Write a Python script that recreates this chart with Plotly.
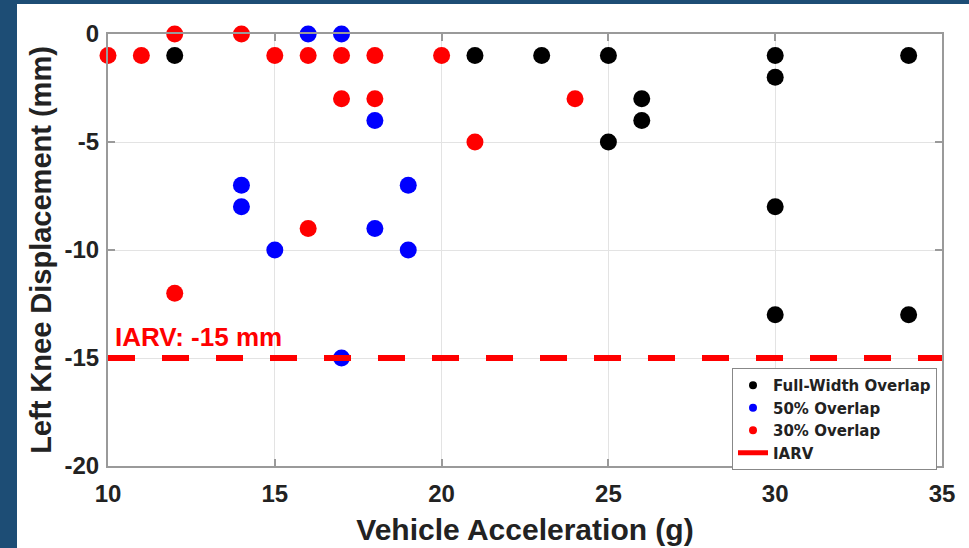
import plotly.graph_objects as go

# ---- data ----
full_x = [12, 21, 23, 25, 25, 26, 26, 30, 30, 30, 30, 34, 34]
full_y = [-1, -1, -1, -1, -5, -3, -4, -1, -2, -8, -13, -1, -13]

half_x = [16, 17, 18, 14, 14, 19, 18, 15, 19, 17]
half_y = [0, 0, -4, -7, -8, -7, -9, -10, -10, -15]

thirty_x = [10, 11, 12, 14, 15, 16, 17, 18, 20, 17, 18, 21, 16, 12, 24]
thirty_y = [-1, -1, 0, 0, -1, -1, -1, -1, -1, -3, -3, -5, -9, -12, -3]

iarv_value = -15
x_limits = [10, 35]
y_limits = [-20, 0]
x_ticks = [10, 15, 20, 25, 30, 35]
y_ticks = [-20, -15, -10, -5, 0]
y_tick_labels = ["-20", "-15", "-10", "-5", "0"]

series_names = ["Full-Width Overlap", "50% Overlap", "30% Overlap"]
series_colors = ["#000000", "#0000ff", "#ff0000"]

FONT = "Liberation Sans"
TXT = "#222222"

fig = go.Figure()

for (xs, ys), name, col in zip([(full_x, full_y), (half_x, half_y), (thirty_x, thirty_y)],
                               series_names, series_colors):
    fig.add_trace(go.Scatter(x=xs, y=ys, mode="markers", name=name, showlegend=False,
                             cliponaxis=False,
                             marker=dict(color=col, size=17, line=dict(width=0))))

# IARV threshold line (drawn on top of the markers)
fig.add_shape(type="line", xref="x", yref="y", layer="above",
              x0=x_limits[0], x1=x_limits[1], y0=iarv_value, y1=iarv_value,
              line=dict(color="#ff0000", width=6, dash="27px,27px"))

# legend-only entries
for name, col in zip(series_names, series_colors):
    fig.add_trace(go.Scatter(x=[None], y=[None], mode="markers", name=name,
                             marker=dict(color=col, size=8)))
fig.add_trace(go.Scatter(x=[None], y=[None], mode="lines", name="IARV",
                         line=dict(color="#ff0000", width=5)))

fig.add_annotation(x=x_limits[0], y=iarv_value, xref="x", yref="y",
                   text="IARV: -15 mm", showarrow=False,
                   xanchor="left", yanchor="bottom", xshift=5, yshift=4,
                   font=dict(family=FONT, size=26, color="#ff0000", weight="bold"))

axis_common = dict(
    showline=True, linecolor="#9a9a9a", linewidth=2, mirror="ticks",
    ticks="inside", ticklen=7, tickcolor="#9a9a9a", tickwidth=1.5,
    showgrid=True, gridcolor="#e3e3e3", gridwidth=1, zeroline=False,
    automargin=False,
    tickfont=dict(family=FONT, size=24, color=TXT, weight="bold"),
)

fig.update_xaxes(range=x_limits, tickvals=x_ticks, ticklabelstandoff=5, **axis_common,
                 title=dict(text="Vehicle Acceleration (g)", standoff=13,
                            font=dict(family=FONT, size=30, color=TXT, weight="bold")))
fig.update_yaxes(range=y_limits, tickvals=y_ticks, ticktext=y_tick_labels,
                 ticklabelstandoff=2, **axis_common,
                 title=dict(text="Left Knee Displacement (mm)", standoff=4,
                            font=dict(family=FONT, size=29, color=TXT, weight="bold")))

W, H = 969, 548
ml, mr, mt, mb = 108, 27, 34, 82
pw, ph = W - ml - mr, H - mt - mb

def px_to_paper_x(px):
    return (px - ml) / pw

def px_to_paper_y(py):
    return (H - mb - py) / ph

fig.add_shape(type="rect", xref="paper", yref="paper", layer="below",
              x0=px_to_paper_x(17), x1=px_to_paper_x(W + 5),
              y0=px_to_paper_y(H + 5), y1=px_to_paper_y(4),
              fillcolor="white", line=dict(width=0))

fig.update_layout(
    width=W, height=H,
    margin=dict(l=ml, r=mr, t=mt, b=mb, autoexpand=False),
    paper_bgcolor="#1d4d75", plot_bgcolor="white",
    showlegend=True,
    legend=dict(x=px_to_paper_x(937), xanchor="right", y=px_to_paper_y(368), yanchor="top",
                bgcolor="white", bordercolor="#888888", borderwidth=1,
                font=dict(family="DejaVu Sans", size=15, color=TXT, weight="bold"),
                tracegroupgap=0),
)

fig.write_html("out.html")
